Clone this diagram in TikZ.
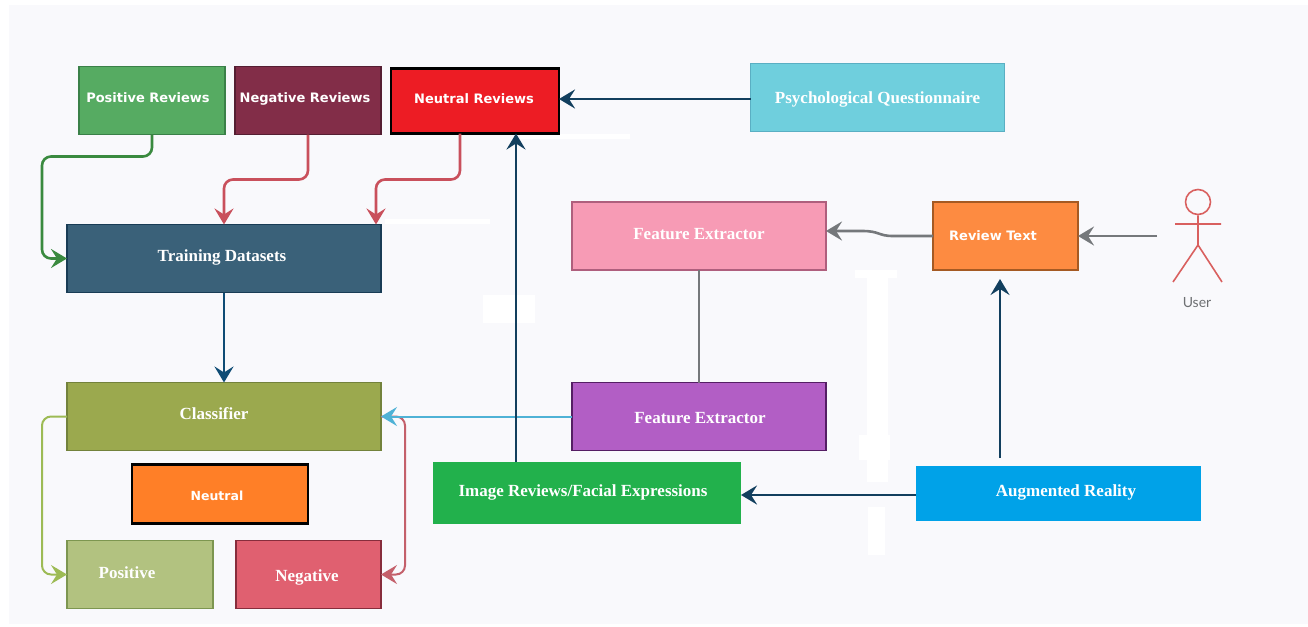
\documentclass[tikz,border=0pt]{standalone}
\usepackage{fontspec}
\setmainfont{Liberation Serif}
\newfontfamily\boxsans{DejaVu Sans}
\newfontfamily\labelfont{Lato}
\usetikzlibrary{arrows.meta}
\definecolor{paper}{HTML}{F9F9FC}
\definecolor{navyline}{HTML}{123F5E}
\definecolor{blueline}{HTML}{0F4C75}
\definecolor{redline}{HTML}{C9505C}
\definecolor{roseline}{HTML}{C4606B}
\definecolor{greyline}{HTML}{75787B}
\definecolor{greenline}{HTML}{3A8A3F}
\definecolor{oliveline}{HTML}{9DBB55}
\definecolor{cyanline}{HTML}{4FB2D6}
\definecolor{stickman}{HTML}{D9605F}
\definecolor{usertext}{HTML}{6E7073}
\definecolor{posrevfill}{HTML}{56AB62}\definecolor{posrevline}{HTML}{3A8048}
\definecolor{negrevfill}{HTML}{822D48}\definecolor{negrevline}{HTML}{551E32}
\definecolor{neutrevfill}{HTML}{ED1C24}
\definecolor{questionfill}{HTML}{6FCFDD}\definecolor{questionline}{HTML}{5AAFC3}
\definecolor{trainfill}{HTML}{3A6179}\definecolor{trainline}{HTML}{193C55}
\definecolor{featuretopfill}{HTML}{F79BB5}\definecolor{featuretopline}{HTML}{AF5F7D}
\definecolor{reviewfill}{HTML}{FD8B41}\definecolor{reviewline}{HTML}{A55A23}
\definecolor{classfill}{HTML}{9BA94E}\definecolor{classline}{HTML}{73823C}
\definecolor{featurebotfill}{HTML}{B25EC5}\definecolor{featurebotline}{HTML}{551E64}
\definecolor{neutralfill}{HTML}{FF7F27}
\definecolor{imgfill}{HTML}{22B14C}
\definecolor{augfill}{HTML}{00A2E8}
\definecolor{posfill}{HTML}{B2C280}\definecolor{posline}{HTML}{7D9650}
\definecolor{negfill}{HTML}{E06070}\definecolor{negline}{HTML}{872D3C}
\newcommand{\nudge}[3]{\hspace*{#1pt}\raisebox{#2pt}{#3}}
\newcommand{\dropped}[3]{\hspace*{#1pt}\raisebox{0pt}[\dimexpr\height+#2pt\relax]{#3}}
\begin{document}
\begin{tikzpicture}[x=1pt, y=-1pt,
  box/.style={draw, line width=1.8pt, inner sep=0pt, outer sep=0pt, text=white, font=\fontsize{17}{19}\selectfont\bfseries},
  sansbox/.style={box, font=\boxsans\fontsize{13}{15}\selectfont\bfseries},
  smallbox/.style={minimum width=146pt, minimum height=68pt},
  widebox/.style={box, minimum width=314pt, minimum height=68pt},
  midbox/.style={box, minimum width=254pt, minimum height=68pt},
  link/.style={line width=2.6pt, rounded corners=9pt, -{Stealth[length=16pt, width=19pt, inset=6pt]}},
  thinlink/.style={link, line width=2pt},
  whitepatch/.style={white, draw=none}]
\useasboundingbox (0,0) rectangle (1308,626);
\fill[paper] (9,5) rectangle (1308,624);
\fill[whitepatch] (483,295) rectangle (535,323);
\fill[whitepatch] (855,270) rectangle (897,278);
\fill[whitepatch] (867,270) rectangle (888,482);
\fill[whitepatch] (859,435) rectangle (890,460);
\fill[whitepatch] (868,507) rectangle (885,555);
\fill[whitepatch] (385,219) rectangle (490,224);
\fill[whitepatch] (520,134) rectangle (630,139);
\node[sansbox, smallbox, fill=posrevfill, draw=posrevline] (posrev) at (152,100.5) {\nudge{-8}{5}{Positive Reviews}};
\node[sansbox, smallbox, fill=negrevfill, draw=negrevline] (negrev) at (308,100.5) {\nudge{-6}{5}{Negative Reviews}};
\node[sansbox, minimum width=168pt, minimum height=65pt, line width=2.4pt, fill=neutrevfill, draw=black] (neutrev) at (475,101) {\nudge{-2}{4}{Neutral Reviews}};
\node[midbox, fill=questionfill, draw=questionline] (question) at (877.5,97.5) {\dropped{0}{4}{Psychological Questionnaire}};
\node[widebox, fill=trainfill, draw=trainline] (trainset) at (224,258.5) {\nudge{-4}{5}{Training Datasets}};
\node[midbox, fill=featuretopfill, draw=featuretopline] (featuretop) at (699,236) {\nudge{0}{5}{Feature Extractor}};
\node[sansbox, minimum width=145pt, minimum height=68pt, fill=reviewfill, draw=reviewline] (reviewtext) at (1005.5,236) {\nudge{-25}{1}{Review Text}};
\node[widebox, fill=classfill, draw=classline] (classifier) at (224,416.5) {\nudge{-20}{5}{Classifier}};
\node[midbox, fill=featurebotfill, draw=featurebotline] (featurebot) at (699,416.5) {\dropped{2}{4}{Feature Extractor}};
\node[sansbox, font=\boxsans\fontsize{12.5}{15}\selectfont\bfseries, minimum width=176pt, minimum height=59pt, line width=2.4pt, fill=neutralfill, draw=black] (neutral) at (220,494) {\dropped{-6}{4}{Neutral}};
\node[box, minimum width=308pt, minimum height=62pt, draw=none, fill=imgfill] (imgrev) at (587,493) {\nudge{-8}{4}{Image Reviews/Facial Expressions}};
\node[box, minimum width=285pt, minimum height=55pt, draw=none, fill=augfill] (augreal) at (1058.5,493.5) {\nudge{15}{5}{Augmented Reality}};
\node[box, smallbox, fill=posfill, draw=posline] (positive) at (140,574.5) {\nudge{-26}{3}{Positive}};
\node[box, smallbox, minimum width=145pt, fill=negfill, draw=negline] (negative) at (308.5,574.5) {\dropped{-3}{6}{Negative}};
\node[draw=stickman, line width=1.6pt, circle, minimum size=25pt, inner sep=0pt] (userhead) at (1198,202) {};
\node[text=usertext, font=\labelfont\fontsize{14}{16}\selectfont] (userlabel) at (1197,303) {User};
\coordinate (userhip) at (1198,245);
\coordinate (userhand) at (1157,236);
\coordinate (arstart) at (1000,458);
\draw[stickman, line width=1.6pt] (userhead.south) -- (userhip) -- (1173,282) (userhip) -- (1222,282) (1175,224) -- (1221,224);
\draw[link, greenline] (posrev.south) -- ++(0,22) -| ([xshift=-25pt]trainset.west) -- (trainset.west);
\draw[link, redline] (negrev.south) -- ++(0,45) -| (trainset.north);
\draw[link, redline] ([xshift=-15pt]neutrev.south) -- ++(0,46) -| ([xshift=152pt]trainset.north);
\draw[link, blueline] (trainset.south) -- (classifier.north);
\draw[thinlink, oliveline] (classifier.west) -- ++(-25,0) |- (positive.west);
\draw[thinlink, roseline] (classifier.east) -- ++(24,0) |- (negative.east);
\draw[thinlink, cyanline] (featurebot.west) -- (classifier.east);
\draw[link, navyline] ([xshift=-71pt]imgrev.north) -- ([xshift=41pt]neutrev.south);
\draw[link, navyline] ([yshift=-1.5pt]question.west) -- ([yshift=2pt]neutrev.east);
\draw[greyline, line width=2.4pt] (featuretop.south) -- (featurebot.north);
\draw[link, greyline, rounded corners=0pt] (reviewtext.west) -- ++(-40,0) .. controls (878,236) and (880,231) .. (862,231) -- ([yshift=5pt]featuretop.east);
\draw[link, greyline] (userhand) -- (reviewtext.east);
\draw[link, navyline, shorten >=9pt] (arstart) -- (arstart |- reviewtext.south);
\draw[link, navyline] ([yshift=-1.5pt]augreal.west) -- ([yshift=-2pt]imgrev.east);
\end{tikzpicture}
\end{document}
